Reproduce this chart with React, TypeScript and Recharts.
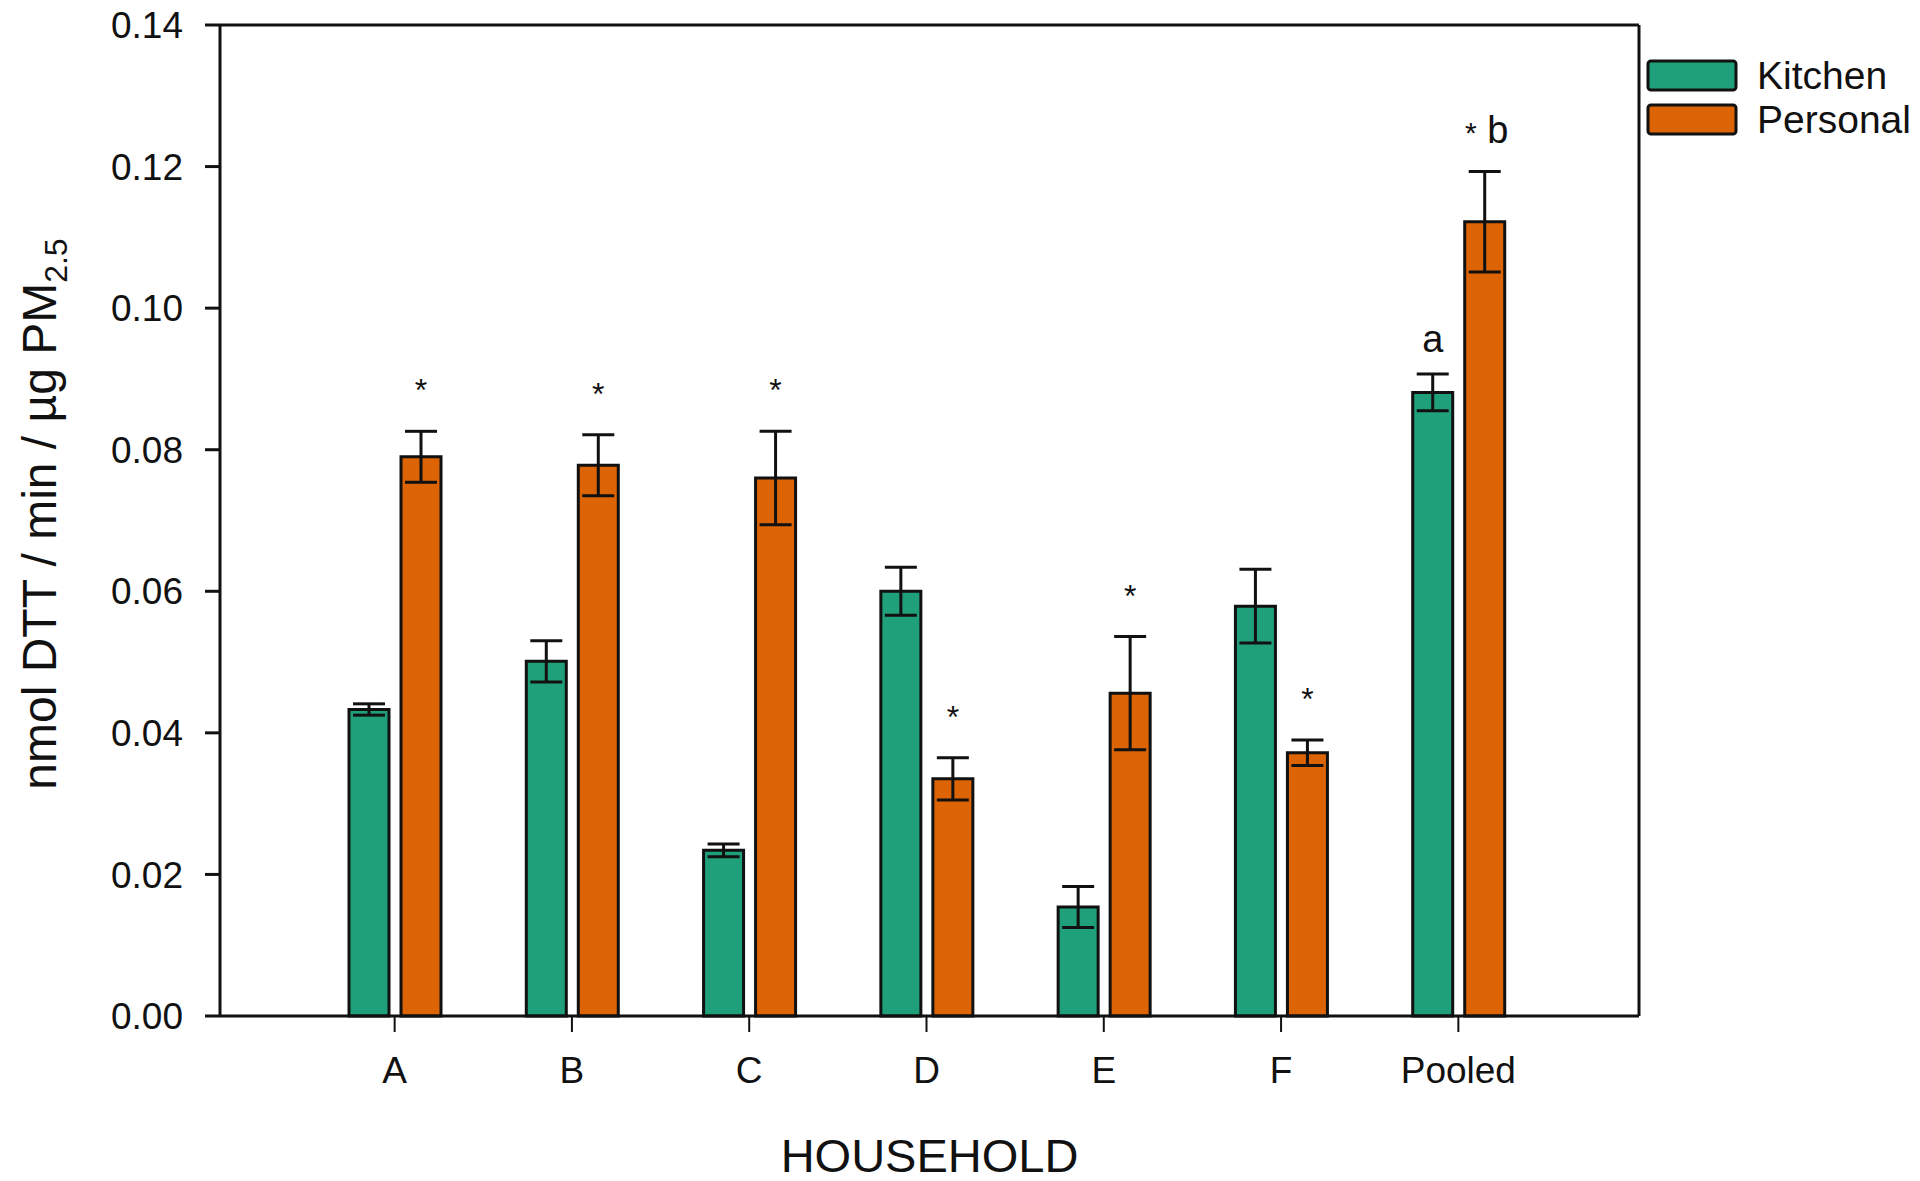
import { BarChart, Bar, Line, XAxis, YAxis, ErrorBar, LabelList, Legend, ReferenceLine } from 'recharts';

const categories = ['A', 'B', 'C', 'D', 'E', 'F', 'Pooled'];
const kitchen = [0.0433, 0.0501, 0.0234, 0.06, 0.0154, 0.0579, 0.0881];
const kitchenErr = [0.0008, 0.0029, 0.0009, 0.0034, 0.0029, 0.0052, 0.0026];
const personal = [0.079, 0.0778, 0.076, 0.0335, 0.0456, 0.0372, 0.1122];
const personalErr = [0.0036, 0.0043, 0.0066, 0.003, 0.008, 0.0018, 0.0071];
const kitchenMarks = ['', '', '', '', '', '', 'a'];
const personalMarks = ['*', '*', '*', '*', '*', '*', '* b'];
const yTicks = [0, 0.02, 0.04, 0.06, 0.08, 0.1, 0.12, 0.14];

const KITCHEN = '#20a07a';
const PERSONAL = '#dc6404';
const INK = '#111';
const FONT = '"Liberation Sans", Arial, sans-serif';

const W = 1920;
const H = 1181;
const X_AXIS_H = 165;
const margin = { top: 25, right: 20, left: 100, bottom: 0 };
const plotH = H - margin.top - margin.bottom - X_AXIS_H;
const pxPerUnit = plotH / 0.14;

const data = categories.map((c, i) => ({
  name: c,
  kitchen: kitchen[i],
  kitchenErr: kitchenErr[i],
  personal: personal[i],
  personalErr: personalErr[i],
}));

// annotation text sitting above the error bar cap
const markLabel = (marks: string[], errs: number[]) => (props: any) => {
  const { x, y, width, index } = props;
  const m = marks[index];
  if (!m) return null;
  const cx = x + width / 2;
  const cap = y - errs[index] * pxPerUnit;
  if (m === '*') {
    return (
      <text x={cx} y={cap - 30} textAnchor="middle" fontSize={32} fontFamily={FONT} fill={INK}>*</text>
    );
  }
  if (m === '* b') {
    return (
      <text x={cx + 2} y={cap - 29} textAnchor="middle" fontFamily={FONT} fill={INK}>
        <tspan fontSize={30}>*</tspan>
        <tspan fontSize={38}> b</tspan>
      </text>
    );
  }
  return (
    <text x={cx} y={cap - 22} textAnchor="middle" fontSize={38} fontFamily={FONT} fill={INK}>{m}</text>
  );
};

const YLabel = () => (
  <text
    x={0}
    y={0}
    transform={`translate(56, 514) rotate(-90)`}
    textAnchor="middle"
    fontSize={48}
    fontFamily={FONT}
    fill={INK}
  >
    <tspan>nmol DTT / min / µg PM</tspan>
    <tspan fontSize={32} dy={11}>2.5</tspan>
  </text>
);

const XLabel = (props: any) => {
  const { viewBox } = props;
  return (
    <text x={viewBox.x + viewBox.width / 2} y={viewBox.y + 156} textAnchor="middle" fontSize={47} fontFamily={FONT} fill={INK}>
      HOUSEHOLD
    </text>
  );
};

const LegendBox = () => (
  <svg width={260} height={92} style={{ overflow: 'visible' }}>
    {[
      { name: 'Kitchen', color: KITCHEN },
      { name: 'Personal', color: PERSONAL },
    ].map((s, i) => (
      <g key={s.name}>
        <rect x={3} y={3 + i * 44} width={88} height={29} rx={3} fill={s.color} stroke={INK} strokeWidth={3} />
        <text x={112} y={31 + i * 44} fontSize={39} fontFamily={FONT} fill={INK}>{s.name}</text>
      </g>
    ))}
  </svg>
);

export default function App() {
  return (
    <div style={{ position: 'absolute', left: 0, top: 0, background: '#fff' }}>
      <BarChart width={W} height={H} data={data} margin={margin} barSize={40} barGap={12}>
        <XAxis
          dataKey="name"
          height={X_AXIS_H}
          padding={{ left: 86, right: 92 }}
          stroke={INK}
          strokeWidth={3}
          tickSize={16}
          tickLine={{ stroke: INK, strokeWidth: 2 }}
          tick={{ fill: INK, fontSize: 37, fontFamily: FONT }}
          tickMargin={25}
          label={<XLabel />}
        />
        <YAxis
          width={120}
          domain={[0, 0.14]}
          ticks={yTicks}
          interval={0}
          stroke={INK}
          strokeWidth={3}
          tickSize={15}
          tickLine={{ stroke: INK, strokeWidth: 3 }}
          tickMargin={22}
          tick={{ fill: INK, fontSize: 37, fontFamily: FONT }}
          tickFormatter={(v: number) => v.toFixed(2)}
          label={<YLabel />}
        />
        <YAxis yAxisId="right" orientation="right" width={1} domain={[0, 0.14]} ticks={yTicks} tick={false} tickLine={false} stroke={INK} strokeWidth={3} />
        <Legend
          layout="vertical"
          align="right"
          verticalAlign="top"
          width={260}
          wrapperStyle={{ top: 58, left: 1645 }}
          content={<LegendBox />}
        />
        <ReferenceLine y={0.14} stroke={INK} strokeWidth={3} />
        <Bar dataKey="kitchen" name="Kitchen" fill={KITCHEN} stroke={INK} strokeWidth={3} isAnimationActive={false}>
          <ErrorBar dataKey="kitchenErr" width={16} stroke={INK} strokeWidth={3} direction="y" />
          <LabelList dataKey="kitchen" content={markLabel(kitchenMarks, kitchenErr)} />
        </Bar>
        <Bar dataKey="personal" name="Personal" fill={PERSONAL} stroke={INK} strokeWidth={3} isAnimationActive={false}>
          <ErrorBar dataKey="personalErr" width={16} stroke={INK} strokeWidth={3} direction="y" />
          <LabelList dataKey="personal" content={markLabel(personalMarks, personalErr)} />
        </Bar>
        {/* invisible series so the right-hand frame axis gets drawn */}
        <Line yAxisId="right" dataKey="kitchen" stroke="none" dot={false} activeDot={false} legendType="none" isAnimationActive={false} />
      </BarChart>
    </div>
  );
}
